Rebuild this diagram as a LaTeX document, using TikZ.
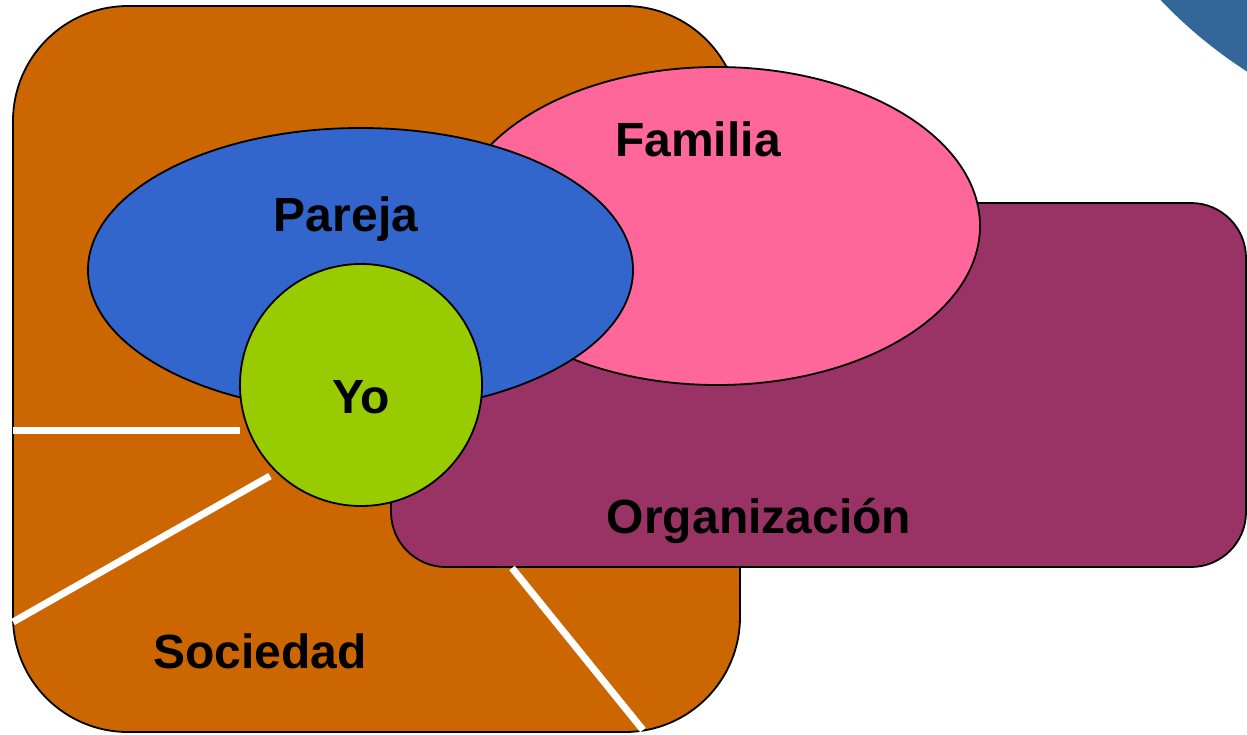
\documentclass[tikz,border=0pt]{standalone}
\usepackage{fontspec}
\setmainfont{Liberation Sans}
\usetikzlibrary{shapes.geometric,positioning}
\definecolor{sociedadColor}{HTML}{CC6600}
\definecolor{orgColor}{HTML}{993366}
\definecolor{familiaColor}{HTML}{FF6699}
\definecolor{parejaColor}{HTML}{3366CC}
\definecolor{yoColor}{HTML}{99CC00}
\definecolor{cornerColor}{HTML}{336699}
\newcommand{\lblFont}{\fontsize{48}{57}\selectfont\bfseries}

\begin{document}
\begin{tikzpicture}[x=1pt, y=-1pt,
		area/.style={draw=black, line width=1.8pt, inner sep=0pt},
		box/.style={area, rectangle},
		oval/.style={area, ellipse},
		lbl/.style={font=\lblFont, inner sep=0pt, anchor=base},
		ray/.style={draw=white, line width=7pt}]
	\useasboundingbox (0,0) rectangle (1247,734);
	% corner of the slide background
	\begin{scope}
		\clip (0,0) rectangle (1247,734);
		\fill[cornerColor] (1501,-324) circle (470);
	\end{scope}
	% areas
	\node[box, fill=sociedadColor, rounded corners=115pt,
		minimum width=727pt, minimum height=726pt] (sociedad) at (376.5,369) {};
	%\node[box, fill=orgColor] ...
	\node[box, fill=orgColor, rounded corners=55pt,
		minimum width=855pt, minimum height=364pt] (org) at (818.5,385) {};
	\node[oval, fill=familiaColor, minimum width=526pt, minimum height=318pt] (familia) at (717,226) {};
	\node[oval, fill=parejaColor, minimum width=545pt, minimum height=284pt] (pareja) at (360.5,270) {};
	% rays
	\coordinate (r1a) at (13,430);   \coordinate (r1b) at (240,430);
	\coordinate (r2a) at (13,622);   \coordinate (r2b) at (270,476);
	\coordinate (r3a) at (512,568);  \coordinate (r3b) at (643,730);
	\draw[ray] (r1a) -- (r1b);
	\draw[ray] (r2a) -- (r2b);
	\draw[ray] (r3a) -- (r3b);
	\node[area, circle, fill=yoColor, minimum size=242pt] (yo) at (361,385) {};
	% labels
	\node[lbl] (familiaTxt) at (698,156) {Familia};
	\node[lbl] (parejaTxt) at (346,231) {Pareja};
	\node[lbl] (yoTxt) at (361,413) {Yo};
	\node[lbl] (orgTxt) at (759,533) {Organización};
	\node[lbl] (sociedadTxt) at (260,668) {Sociedad};
\end{tikzpicture}
\end{document}
